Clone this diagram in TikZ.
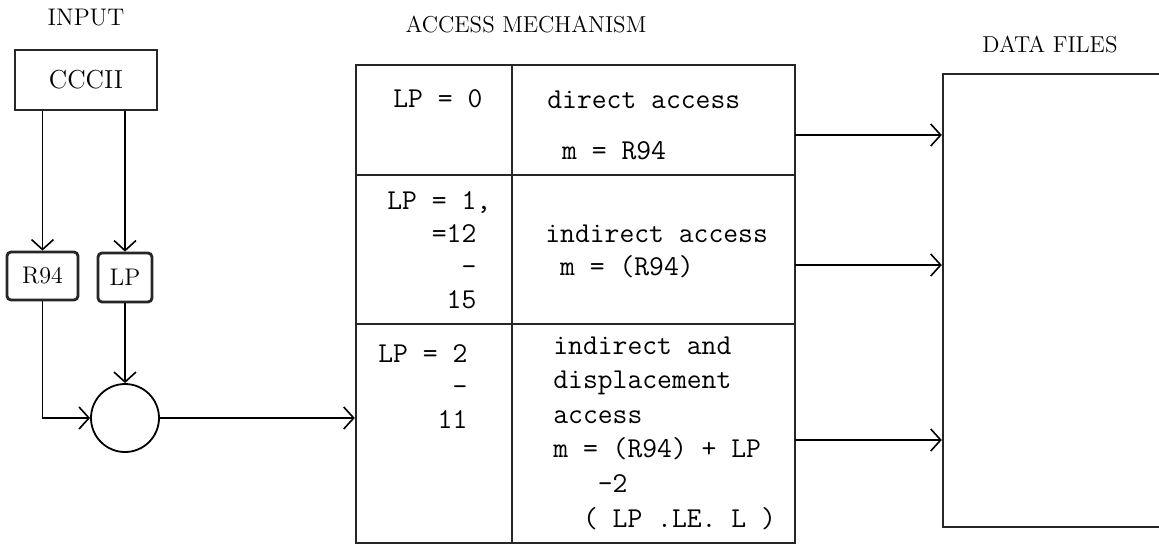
\documentclass[tikz,border=0pt]{standalone}
\usepackage{tikz}
\usetikzlibrary{positioning,arrows.meta}

\begin{document}
\begin{tikzpicture}[
    x=0.5pt, y=-0.5pt,
    title/.style={font=\fontsize{11.5}{13}\selectfont},
    box/.style={rectangle, draw=black!85, line width=1.2pt, inner sep=0pt, font=\fontsize{12}{14}\selectfont},
    reg/.style={box, rounded corners=2pt, line width=1.4pt},
    frame/.style={draw=black!85, line width=1.2pt},
    cell/.style={anchor=north west, align=left, inner sep=0pt, font=\ttfamily\frenchspacing\fontsize{14.4}{16.5}\selectfont},
    wire/.style={-{Straight Barb[length=5pt,width=11pt]}, line width=0.8pt}
  ]
  \useasboundingbox (0,0) rectangle (1159,558);

  % Input side
  \node[box, minimum width=71pt, minimum height=30pt, font=\fontsize{13}{15}\selectfont] (cccii) at (86,80) {CCCII};
  \node[title, font=\fontsize{12}{14}\selectfont, above=8pt of cccii] (input) {INPUT};
  \node[reg, minimum width=35.5pt, minimum height=24pt] (r94) at (42.5,276) {R94};
  \node[reg, minimum width=27pt, minimum height=24.5pt] (lp) at (125,277.5) {LP};
  \node[circle, draw, line width=0.9pt, minimum size=34pt] (circ) at (125,418) {};

  % Access mechanism table
  \node[title] (acctitle) at (526,25) {ACCESS MECHANISM};
  \node[box, minimum width=219.5pt, minimum height=239pt] (access) at (575.5,304) {};
  \coordinate (colx) at (512,65);
  \coordinate (rowa) at (356,175);
  \coordinate (rowb) at (356,324);
  \draw[frame] (colx |- access.north) -- (colx |- access.south);
  \draw[frame] (rowa -| access.west) -- (rowa -| access.east);
  \draw[frame] (rowb -| access.west) -- (rowb -| access.east);

  % Table cells
  \node[cell] (lpzero) at (393,89) {LP = 0};
  \node[cell] (lpone) at (387,191) {LP = 1,\\\phantom{000}=12\\\phantom{00000}-\\\phantom{0000}15};
  \node[cell] (lptwo) at (378,344) {LP = 2\\\phantom{00000}-\\\phantom{0000}11};
  \node[cell] (direct) at (547,90) {direct access\\[9pt]\phantom{0}m = R94};
  \node[cell] (indirect) at (545,224) {indirect access\\\phantom{0}m = (R94)};
  \node[cell] (displ) at (553,336) {indirect and\\[0.8pt]displacement\\[0.8pt]access\\[0.8pt]m = (R94) + LP\\[0.8pt]\phantom{000}-2\\[0.8pt]\phantom{00}( LP .LE. L )};

  % Data files
  \node[title] (datatitle) at (1050,45) {DATA FILES};
  \node[box, minimum width=118pt, minimum height=226.5pt] (data) at (1061,300.5) {};
  \coordinate (outa) at (795,135);
  \coordinate (outb) at (795,265);
  \coordinate (outc) at (795,440);

  % Connections
  \draw[wire] (r94.north |- cccii.south) -- (r94.north);
  \draw[wire] (lp.north |- cccii.south) -- (lp.north);
  \draw[wire] (r94.south) |- (circ.west);
  \draw[wire] (lp.south) -- (circ.north);
  \draw[wire] (circ.east) -- (circ.east -| access.west);
  \draw[wire] (outa) -- (outa -| data.west);
  \draw[wire] (outb) -- (outb -| data.west);
  \draw[wire] (outc) -- (outc -| data.west);
\end{tikzpicture}
\end{document}
